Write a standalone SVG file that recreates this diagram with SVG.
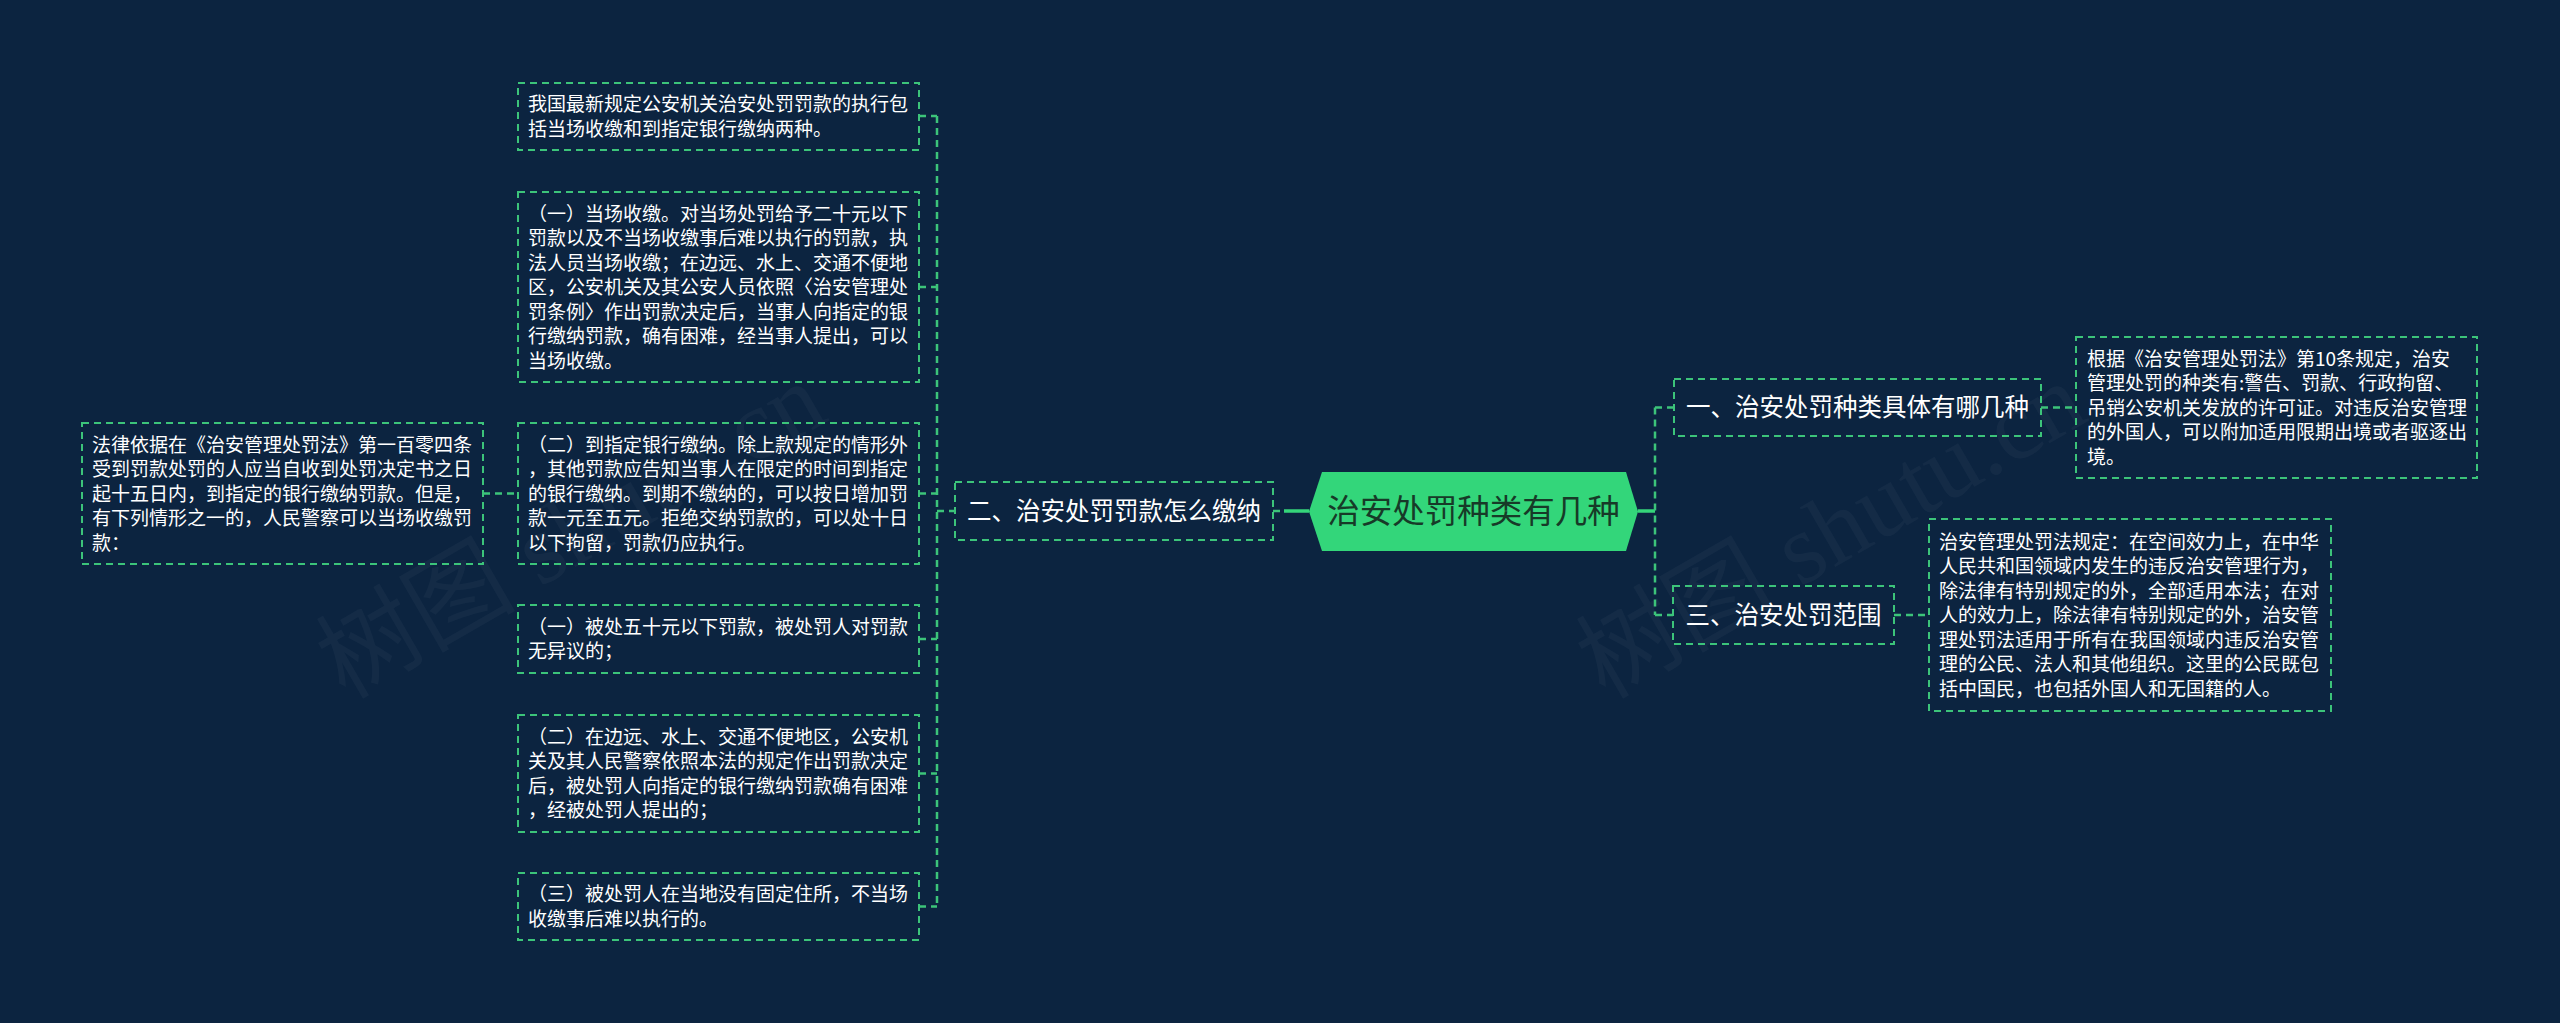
<svg xmlns="http://www.w3.org/2000/svg" width="2560" height="1023" viewBox="0 0 2560 1023">
<style>
.bg{fill:#0c2440}
.box{fill:none;stroke:#3cc47a;stroke-width:2;stroke-dasharray:7 5}
.con{fill:none;stroke:#3cc47a;stroke-width:2.5;stroke-dasharray:7 5}
.solid{fill:none;stroke:#35d57a;stroke-width:3.5}
.t{font-family:"Noto Sans CJK SC","Noto Sans",sans-serif;font-size:19px;fill:#ffffff}
.h{font-family:"Noto Sans CJK SC","Noto Sans",sans-serif;font-size:24.5px;fill:#ffffff;text-anchor:middle}
.c{font-family:"Noto Sans CJK SC","Noto Sans",sans-serif;font-size:32.5px;fill:#173a28;text-anchor:middle}
.wm{font-family:"Liberation Serif","Noto Sans CJK SC",serif;font-size:100px;fill:#ffffff;fill-opacity:0.035}
</style>
<rect class="bg" x="0" y="0" width="2560" height="1023"/>
<g id="watermarks">
<text class="wm" transform="translate(345,700) rotate(-30)">树图 shutu.cn</text>
<text class="wm" transform="translate(1605,700) rotate(-30)">树图 shutu.cn</text>
</g>
<g id="connectors">
<path class="con" d="M937,116 V907"/>
<path class="con" d="M919,116 H937 M919,287 H937 M919,493.5 H937 M919,639 H937 M919,773.5 H937 M919,906.5 H937"/>
<path class="con" d="M937,511 H955"/>
<path class="con" d="M483,493.5 H518"/>
<path class="con" d="M1273,511 H1284"/>
<path class="solid" d="M1284,511 H1309"/>
<path class="solid" d="M1638,511 H1655"/>
<path class="con" d="M1655,407.5 V615"/>
<path class="con" d="M1655,407.5 H1674 M1655,615 H1673"/>
<path class="con" d="M2041,407.5 H2076"/>
<path class="con" d="M1894,615 H1929"/>
</g>
<g id="center">
<polygon points="1309,511.5 1322,472 1626,472 1638,511.5 1626,551 1322,551" fill="#33d67a"/>
<text class="c" x="1473.5" y="523">治安处罚种类有几种</text>
</g>
<g id="n2">
<rect class="box" x="955" y="482" width="318" height="58"/>
<text class="h" x="1114" y="520">二、治安处罚罚款怎么缴纳</text>
</g>
<g id="n1">
<rect class="box" x="1674" y="379" width="367" height="57"/>
<text class="h" x="1857.5" y="416">一、治安处罚种类具体有哪几种</text>
</g>
<g id="n3">
<rect class="box" x="1673" y="586" width="221" height="58"/>
<text class="h" x="1783.5" y="624">三、治安处罚范围</text>
</g>
<g id="b1">
<rect class="box" x="518" y="83" width="401" height="67"/>
<text class="t" y="111.25"><tspan x="528">我国最新规定公安机关治安处罚罚款的执行包</tspan><tspan x="528" dy="24.5">括当场收缴和到指定银行缴纳两种。</tspan></text>
</g>
<g id="b2">
<rect class="box" x="518" y="192" width="401" height="190"/>
<text class="t" y="220.5"><tspan x="528">（一）当场收缴。对当场处罚给予二十元以下</tspan><tspan x="528" dy="24.5">罚款以及不当场收缴事后难以执行的罚款，执</tspan><tspan x="528" dy="24.5">法人员当场收缴；在边远、水上、交通不便地</tspan><tspan x="528" dy="24.5">区，公安机关及其公安人员依照〈治安管理处</tspan><tspan x="528" dy="24.5">罚条例〉作出罚款决定后，当事人向指定的银</tspan><tspan x="528" dy="24.5">行缴纳罚款，确有困难，经当事人提出，可以</tspan><tspan x="528" dy="24.5">当场收缴。</tspan></text>
</g>
<g id="b3">
<rect class="box" x="518" y="423" width="401" height="141"/>
<text class="t" y="451.5"><tspan x="528">（二）到指定银行缴纳。除上款规定的情形外</tspan><tspan x="528" dy="24.5">，其他罚款应告知当事人在限定的时间到指定</tspan><tspan x="528" dy="24.5">的银行缴纳。到期不缴纳的，可以按日增加罚</tspan><tspan x="528" dy="24.5">款一元至五元。拒绝交纳罚款的，可以处十日</tspan><tspan x="528" dy="24.5">以下拘留，罚款仍应执行。</tspan></text>
</g>
<g id="b4">
<rect class="box" x="518" y="605" width="401" height="68"/>
<text class="t" y="633.75"><tspan x="528">（一）被处五十元以下罚款，被处罚人对罚款</tspan><tspan x="528" dy="24.5">无异议的；</tspan></text>
</g>
<g id="b5">
<rect class="box" x="518" y="715" width="401" height="117"/>
<text class="t" y="743.75"><tspan x="528">（二）在边远、水上、交通不便地区，公安机</tspan><tspan x="528" dy="24.5">关及其人民警察依照本法的规定作出罚款决定</tspan><tspan x="528" dy="24.5">后，被处罚人向指定的银行缴纳罚款确有困难</tspan><tspan x="528" dy="24.5">，经被处罚人提出的；</tspan></text>
</g>
<g id="b6">
<rect class="box" x="518" y="873" width="401" height="67"/>
<text class="t" y="901.25"><tspan x="528">（三）被处罚人在当地没有固定住所，不当场</tspan><tspan x="528" dy="24.5">收缴事后难以执行的。</tspan></text>
</g>
<g id="bl">
<rect class="box" x="82" y="423" width="401" height="141"/>
<text class="t" y="451.5"><tspan x="92">法律依据在《治安管理处罚法》第一百零四条</tspan><tspan x="92" dy="24.5">受到罚款处罚的人应当自收到处罚决定书之日</tspan><tspan x="92" dy="24.5">起十五日内，到指定的银行缴纳罚款。但是，</tspan><tspan x="92" dy="24.5">有下列情形之一的，人民警察可以当场收缴罚</tspan><tspan x="92" dy="24.5">款：</tspan></text>
</g>
<g id="r1">
<rect class="box" x="2076" y="337" width="401" height="141"/>
<text class="t" y="365.5"><tspan x="2087">根据《治安管理处罚法》第10条规定，治安</tspan><tspan x="2087" dy="24.5">管理处罚的种类有:警告、罚款、行政拘留、</tspan><tspan x="2087" dy="24.5">吊销公安机关发放的许可证。对违反治安管理</tspan><tspan x="2087" dy="24.5">的外国人，可以附加适用限期出境或者驱逐出</tspan><tspan x="2087" dy="24.5">境。</tspan></text>
</g>
<g id="r3">
<rect class="box" x="1929" y="519" width="402" height="192"/>
<text class="t" y="548.5"><tspan x="1939">治安管理处罚法规定：在空间效力上，在中华</tspan><tspan x="1939" dy="24.5">人民共和国领域内发生的违反治安管理行为，</tspan><tspan x="1939" dy="24.5">除法律有特别规定的外，全部适用本法；在对</tspan><tspan x="1939" dy="24.5">人的效力上，除法律有特别规定的外，治安管</tspan><tspan x="1939" dy="24.5">理处罚法适用于所有在我国领域内违反治安管</tspan><tspan x="1939" dy="24.5">理的公民、法人和其他组织。这里的公民既包</tspan><tspan x="1939" dy="24.5">括中国民，也包括外国人和无国籍的人。</tspan></text>
</g>
</svg>
